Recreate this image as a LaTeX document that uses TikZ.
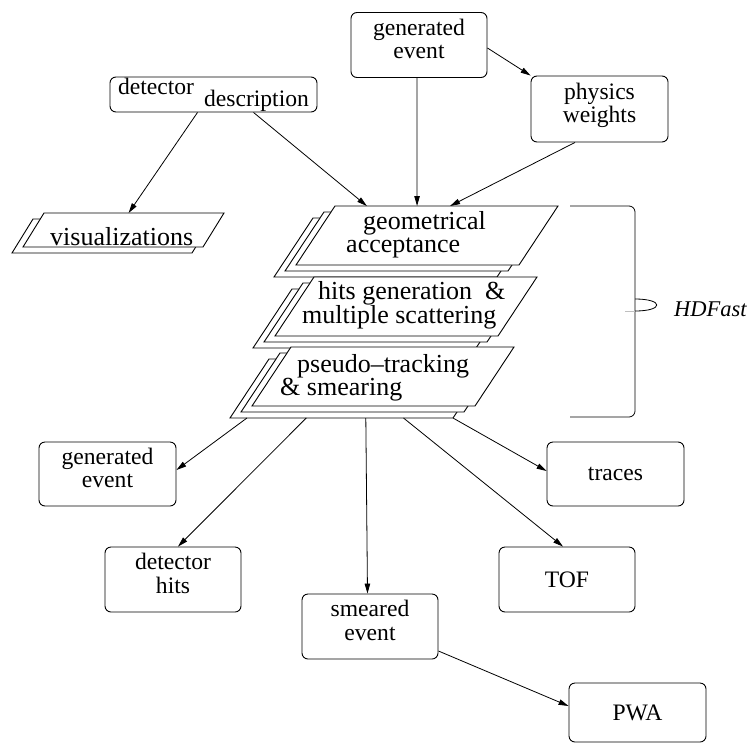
\documentclass[tikz,border=0pt]{standalone}
\usepackage{fontspec}
\setmainfont{Liberation Serif}
\usetikzlibrary{positioning,arrows.meta,calc}
\newcommand\labfont{\fontsize{23.6}{23.5}\selectfont}
\newcommand\slabfont{\fontsize{26}{23}\selectfont}

\begin{document}
\begin{tikzpicture}[x=1pt, y=-1pt, font=\labfont,
  box/.style={draw, rounded corners=6pt, line width=0.9pt, inner sep=0pt,
    align=center, minimum width=136pt, minimum height=65pt},
  twoline/.style={text depth=12pt},
  slab/.style={draw, fill=white, line width=0.9pt},
  slabtext/.style={anchor=west, inner sep=0pt, align=left, font=\slabfont},
  flow/.style={-{Triangle[length=10pt,width=5.5pt]}, line width=0.8pt}]
\useasboundingbox (0,0) rectangle (751,744);
% input boxes
\node[box, twoline] (gen1) at (419,45) {generated\\event};
\node[box, twoline, minimum width=137pt, minimum height=66pt] (phys) at (599.5,109) {physics\\weights};
\node[box, minimum width=207pt, minimum height=35pt] (desc) at (213.5,94.5)
  {detector\hspace{10pt}\raisebox{-12pt}{description}};
% visualizations, one copy behind
\foreach \k in {2,1}
  \draw[slab] ({23-11*(\k-1)},{247+6*(\k-1)}) coordinate (vis\k-bl)
    -- ++(180,0) coordinate (vis\k-br) -- ++(21,-34) coordinate (vis\k-tr)
    -- ++(-180,0) coordinate (vis\k-tl) -- cycle;
\node[slabtext] (vistext) at (50,237) {visualizations};
% HDFast stack, two copies behind each slab
\foreach \s/\cx/\cy in {ga/296/265, hg/275/336, ps/252/406} {
  \foreach \k in {3,2,1}
    \draw[slab] ({\cx-11*(\k-1)},{\cy+6*(\k-1)}) coordinate (\s\k-bl)
      -- ++(223,0) coordinate (\s\k-br) -- ++(39,-59) coordinate (\s\k-tr)
      -- ++(-223,0) coordinate (\s\k-tl) -- cycle;
}
\node[slabtext] (gatext) at (346,234.4) {\hspace*{17pt}geometrical\\acceptance};
\node[slabtext] (hgtext) at (302,305.4) {\hspace*{16pt}hits generation\ \ \&\\multiple scattering};
\node[slabtext] (pstext) at (280,377.4) {\hspace*{17pt}pseudo--tracking\\\& smearing};
% brace
\draw[line width=0.8pt, rounded corners=6pt] (570,206) -- (635,206) -- (635,417) -- (570,417);
\draw[line width=0.8pt] (635,299) .. controls (664,299) and (664,311) .. (635,311);
\draw[gray!50, line width=0.5pt] (625,311) -- (635,311);
\node[anchor=west, inner sep=0pt, font=\fontsize{22.5}{24}\selectfont\itshape] (hdfast) at (674,309.5) {HDFast};
% output boxes
\node[box, twoline, minimum width=137pt, minimum height=64pt] (gen2) at (107.5,474) {generated\\event};
\node[box, twoline] (dhits) at (173,579.5) {detector\\hits};
\node[box, twoline] (smeared) at (370,626.5) {smeared\\event};
\node[box, minimum width=137pt, minimum height=64pt] (traces) at (615.5,474) {traces};
\node[box] (tof) at (567,579.5) {TOF};
\node[box, minimum width=137pt, minimum height=59pt] (pwa) at (637.5,712.5) {PWA};
% arrows into the stack
\draw[flow] ([yshift=-3pt]gen1.east) -- (phys.north west);
\draw[flow] ([xshift=-16pt]desc.south) -- ($(vis1-tl)!0.47!(vis1-tr)$);
\draw[flow] ([xshift=40pt]desc.south) -- ($(ga1-tl)!0.143!(ga1-tr)$);
\draw[flow] ([xshift=-2pt]gen1.south) -- ($(ga1-tl)!0.368!(ga1-tr)$);
\draw[flow] ([xshift=-24.5pt]phys.south) -- ($(ga1-tl)!0.516!(ga1-tr)$);
% arrows out of the stack
\draw[flow] ($(ps3-bl)!0.076!(ps3-br)$) -- ([yshift=4pt]gen2.east);
\draw[flow] ($(ps3-bl)!0.342!(ps3-br)$) -- ([xshift=5pt]dhits.north);
\draw[flow] ($(ps3-bl)!0.609!(ps3-br)$) -- ([xshift=-2.5pt]smeared.north);
\draw[flow] ($(ps3-bl)!0.778!(ps3-br)$) -- ([xshift=-4pt]tof.north);
\draw[flow] (ps3-br) -- ([yshift=3pt]traces.west);
\draw[flow] ([yshift=-24.5pt]smeared.east) -- ([yshift=6.5pt]pwa.west);
\end{tikzpicture}
\end{document}
